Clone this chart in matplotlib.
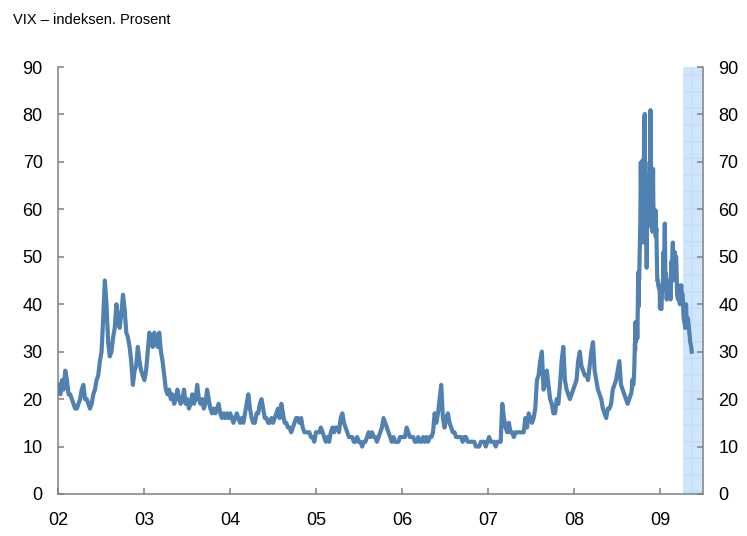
import matplotlib
matplotlib.use("Agg")
from matplotlib import pyplot as plt
import pandas as pd

plt.rcParams['font.family'] = ['Liberation Sans', 'DejaVu Sans']

# weekly closes (fridays), jan 2002 - aug 2008
vix_2002 = [23, 21, 24, 22, 26, 24, 21, 21, 20, 19, 18, 18, 19, 20, 22, 23, 20,
            20, 19, 18, 19, 21, 22, 24, 25, 28, 30, 37, 45, 40, 32, 29, 30, 33, 35,
            40, 37, 35, 38, 42, 39, 34, 33, 31, 28, 23, 26, 27, 31, 28, 26, 25]
vix_2003 = [24, 26, 30, 34, 33, 31, 34, 32, 31, 34, 30, 28, 25, 22, 21, 22, 20,
            21, 19, 20, 22, 20, 19, 20, 22, 19, 20, 18, 19, 21, 19, 20, 23, 20, 19,
            20, 18, 19, 22, 20, 18, 17, 18, 17, 18, 19, 17, 16, 17, 16, 17, 16]
vix_2004 = [17, 16, 15, 16, 17, 16, 15, 16, 15, 17, 19, 21, 18, 16, 15, 15, 17, 17,
            19, 20, 18, 16, 16, 15, 15, 16, 15, 16, 17, 18, 16, 19, 17, 15, 15,
            14, 14, 13, 14, 15, 16, 16, 15, 16, 14, 13, 13, 13, 13, 12, 12, 11, 13]
vix_2005 = [13, 13, 14, 13, 12, 11, 12, 11, 13, 14, 13, 14, 14, 13, 16, 17, 15,
            14, 13, 12, 12, 12, 11, 11, 12, 11, 11, 10, 11, 11, 12, 13, 12, 13,
            12, 12, 11, 12, 13, 14, 16, 15, 14, 13, 12, 11, 12, 11, 11, 11, 12, 12]
vix_2006 = [12, 12, 14, 13, 12, 12, 12, 11, 11, 12, 11, 11, 12, 11, 12, 11, 12,
            12, 13, 17, 15, 17, 20, 23, 16, 14, 16, 17, 15, 14, 13, 13, 12, 12,
            12, 12, 11, 12, 12, 11, 11, 11, 11, 11, 10, 10, 10, 11, 11, 11, 10, 11]
vix_2007 = [12, 11, 11, 11, 10, 11, 11, 11, 19, 16, 14, 13, 15, 13, 13, 12, 13,
            13, 13, 13, 13, 13, 16, 14, 17, 16, 15, 16, 18, 24, 25, 28, 30, 22, 23,
            26, 23, 20, 19, 17, 17, 20, 19, 23, 28, 31, 24, 22, 21, 20, 21, 22]
vix_2008 = [23, 24, 28, 30, 27, 26, 25, 25, 24, 27, 30, 32, 26, 24, 22, 21, 20,
            18, 17, 16, 18, 18, 19, 22, 23, 24, 26, 28, 23, 22, 21, 20, 19, 20, 21]

# every second business day, early sep 2008
vix_sep08 = [22, 24, 23, 24, 26]

# daily, 15 sep - 31 dec 2008
vix_daily = [31.7, 30.3, 36.2, 33.1, 32.1, 33.9, 35.7, 34.7, 32.8, 34.7, 46.7, 39.4,
             39.8, 45.3, 45.1, 52.1, 53.7, 57.5, 63.9, 69.9, 54.9, 55.1, 69.3, 67.6,
             70.3, 53.0, 53.1, 69.7, 67.8, 79.1, 80.1, 67.0, 70.0, 62.9, 59.9,
             54.6, 47.7, 54.6, 63.7, 56.1, 59.0, 61.2, 66.5, 59.8, 66.3, 67.6, 67.6,
             74.3, 80.9, 72.7, 64.7, 65.1, 60.9, 57.0, 55.3,
             68.5, 62.1, 59.9, 59.9, 59.9, 58.5, 57.9, 55.7, 59.8, 54.3, 56.0, 52.4,
             49.8, 47.3, 44.9, 45.0, 44.2, 44.2, 43.5, 43.4, 43.9, 39.2, 40.0]

# every second business day, jan - may 2009
vix_2009 = [39, 39, 43, 43, 51, 46, 57, 47, 46, 41, 45,
            43, 43, 43, 45, 41, 49, 47, 53, 45, 46,
            51, 50, 50, 47, 42, 41, 44, 41, 40, 43, 44,
            42, 42, 39, 37, 36, 35, 40, 37, 36, 37, 36,
            34, 33, 32, 31, 30]

year_labels = ['02', '03', '04', '05', '06', '07', '08', '09']
y_ticks = [0, 10, 20, 30, 40, 50, 60, 70, 80, 90]

weekly = vix_2002 + vix_2003 + vix_2004 + vix_2005 + vix_2006 + vix_2007 + vix_2008
dates = (list(pd.date_range('2002-01-04', periods=len(weekly), freq='W-FRI'))
         + list(pd.bdate_range('2008-09-02', periods=len(vix_sep08), freq='2B'))
         + list(pd.bdate_range('2008-09-15', periods=len(vix_daily), freq='B'))
         + list(pd.bdate_range('2009-01-02', periods=len(vix_2009), freq='2B')))
vix = weekly + vix_sep08 + vix_daily + vix_2009

line_col = '#5081B0'
axis_col = '#808080'

fig = plt.figure(figsize=(7.47, 5.36), dpi=100)
ax = fig.add_axes([0.0776, 0.0784, 0.8635, 0.7966])

# shaded: latest period
ax.axvspan(pd.Timestamp('2009-04-08'), pd.Timestamp('2009-07-01'),
           facecolor='#cfe5fb', edgecolor='#c3ddf7', hatch='+', lw=0, zorder=0)
ax.plot(dates, vix, color=line_col, lw=3.0, solid_joinstyle='round', zorder=3)

ax.set_xlim(pd.Timestamp('2002-01-01'), pd.Timestamp('2009-07-01'))
ax.set_ylim(0, 90)
ax.set_yticks(y_ticks)
year_ticks = [pd.Timestamp(f'20{y}-01-01') for y in year_labels]
ax.set_xticks(year_ticks)
ax.set_xticklabels(year_labels)

ax2 = ax.twinx()
ax2.set_ylim(0, 90)
ax2.set_yticks(y_ticks)

for a in (ax, ax2):
    a.spines['top'].set_visible(False)
    for s in ('left', 'right', 'bottom'):
        a.spines[s].set_color(axis_col)
        a.spines[s].set_linewidth(1.1)
ax.spines['right'].set_visible(False)
ax2.spines['left'].set_visible(False)
ax2.spines['bottom'].set_visible(False)

ax.tick_params(axis='y', direction='in', length=4, width=1.1, color=axis_col,
               labelsize=13, pad=11)
ax.tick_params(axis='x', direction='in', length=4, width=1.1, color=axis_col,
               labelsize=13, pad=13)
ax2.tick_params(axis='y', direction='in', length=4, width=1.1, color=axis_col,
                labelsize=13, pad=11)

fig.text(0.017, 0.962, 'VIX – indeksen. Prosent', fontsize=10.5, va='center', ha='left')

fig.savefig('out.png', dpi=100)
